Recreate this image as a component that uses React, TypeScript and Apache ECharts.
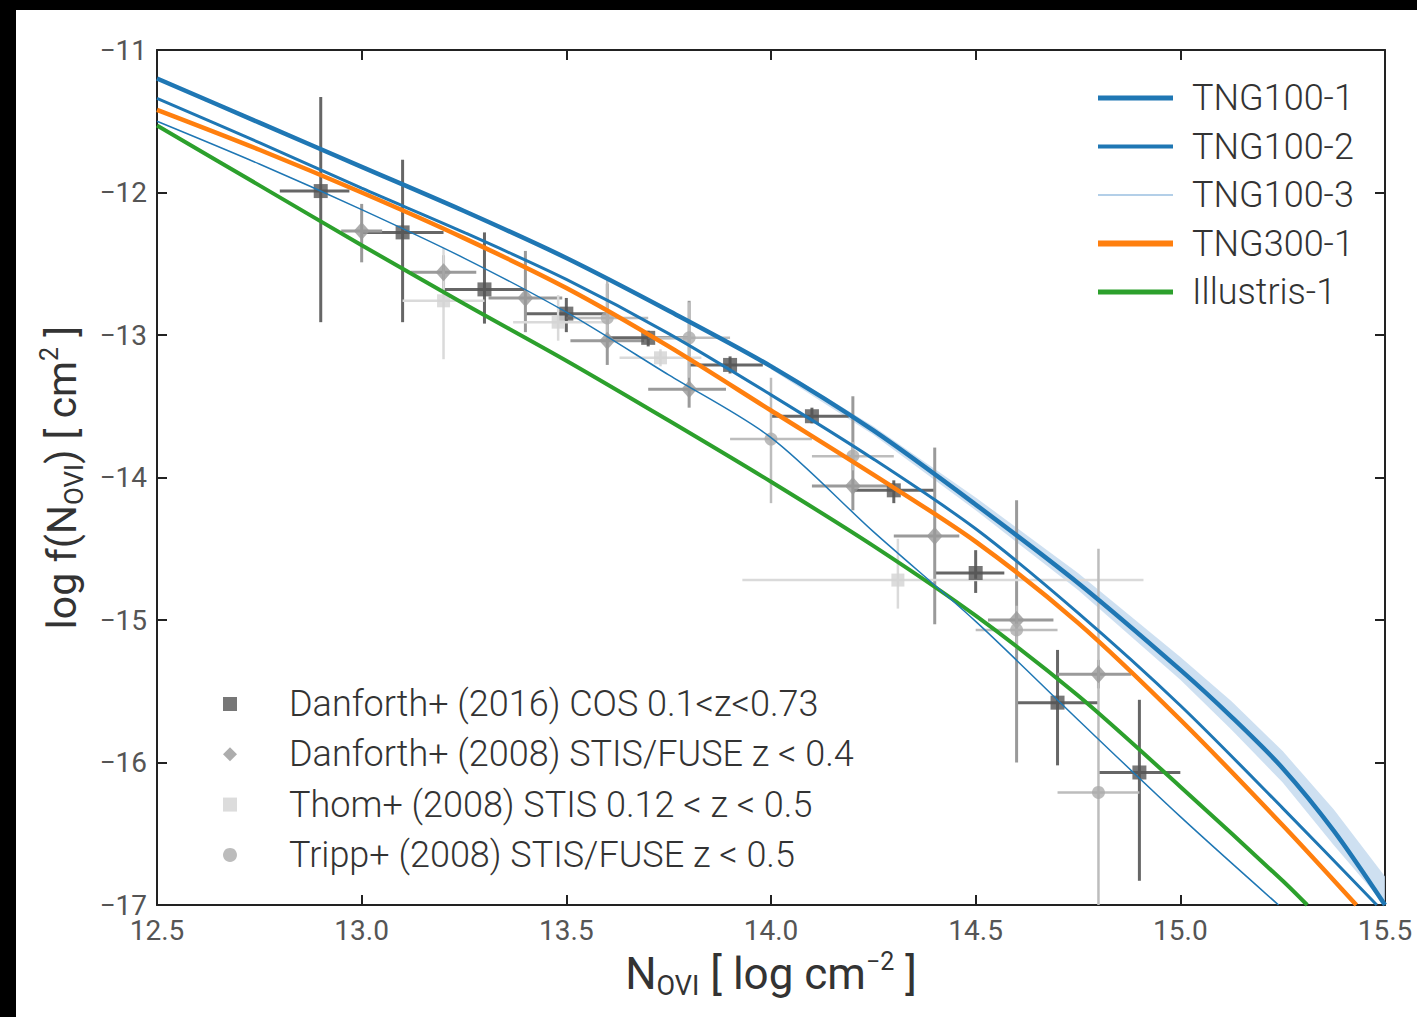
import React, { useEffect, useRef } from 'react';
import * as echarts from 'echarts';

// ---- simulation curves ----
const tng1X = [12.5, 12.75, 13.0, 13.25, 13.5, 13.75, 14.0, 14.25, 14.5, 14.75, 15.0, 15.125, 15.25, 15.375, 15.5];
const tng1Y = [-11.2, -11.51, -11.82, -12.13, -12.46, -12.83, -13.22, -13.67, -14.19, -14.74, -15.35, -15.68, -16.04, -16.48, -17.0];
const tng2X = [12.5, 12.75, 13.0, 13.25, 13.5, 13.75, 14.0, 14.25, 14.5, 14.75, 15.0, 15.25, 15.48];
const tng2Y = [-11.34, -11.65, -11.97, -12.28, -12.61, -12.99, -13.42, -13.87, -14.36, -14.95, -15.6, -16.32, -17.0];
const tng3X = [12.5, 12.75, 13.0, 13.25, 13.5, 13.75, 14.0, 14.25, 14.5, 14.75, 15.0, 15.24];
const tng3Y = [-11.5, -11.8, -12.12, -12.46, -12.84, -13.28, -13.72, -14.38, -15.01, -15.7, -16.38, -17.0];
const tng300X = [12.5, 12.75, 13.0, 13.25, 13.5, 13.75, 14.0, 14.25, 14.5, 14.75, 15.0, 15.25, 15.43];
const tng300Y = [-11.42, -11.7, -12.0, -12.32, -12.67, -13.08, -13.53, -13.98, -14.45, -15.02, -15.7, -16.44, -17.0];
const illX = [12.5, 12.75, 13.0, 13.25, 13.5, 13.75, 14.0, 14.25, 14.5, 14.75, 15.0, 15.25, 15.31];
const illY = [-11.53, -11.95, -12.37, -12.78, -13.18, -13.6, -14.03, -14.48, -14.97, -15.53, -16.17, -16.83, -17.0];

// TNG100-1 shaded range
const bandX = [14.0, 14.25, 14.5, 14.75, 15.0, 15.125, 15.25, 15.375, 15.5];
const bandHi = [-13.2, -13.64, -14.14, -14.67, -15.26, -15.57, -15.92, -16.33, -16.8];
const bandLo = [-13.24, -13.7, -14.23, -14.79, -15.42, -15.77, -16.14, -16.58, -17.0];

// ---- observations ----
const d16X = [12.9, 13.1, 13.3, 13.5, 13.7, 13.9, 14.1, 14.3, 14.5, 14.7, 14.9];
const d16Y = [-11.99, -12.28, -12.68, -12.85, -13.02, -13.21, -13.57, -14.09, -14.67, -15.58, -16.07];
const d16XLo = [12.8, 13.0, 13.2, 13.4, 13.6, 13.8, 14.0, 14.2, 14.4, 14.6, 14.8];
const d16XHi = [12.97, 13.2, 13.4, 13.6, 13.8, 13.98, 14.19, 14.4, 14.57, 14.8, 15.0];
const d16YLo = [-12.91, -12.91, -12.92, -12.98, -13.08, -13.27, -13.62, -14.18, -14.81, -16.02, -16.83];
const d16YHi = [-11.33, -11.77, -12.28, -12.74, -12.97, -13.15, -13.51, -14.02, -14.51, -15.21, -15.56];

const d08X = [13.0, 13.2, 13.4, 13.6, 13.8, 14.2, 14.4, 14.6, 14.8];
const d08Y = [-12.27, -12.56, -12.74, -13.04, -13.38, -14.06, -14.41, -15.0, -15.38];
const d08XLo = [12.95, 13.12, 13.31, 13.51, 13.7, 14.1, 14.3, 14.53, 14.7];
const d08XHi = [13.05, 13.28, 13.49, 13.69, 13.89, 14.3, 14.46, 14.69, 14.88];
const d08YLo = [-12.49, -12.68, -12.98, -13.21, -13.51, -14.23, -15.03, -16.0, -15.48];
const d08YHi = [-12.08, -12.44, -12.41, -12.64, -12.76, -13.43, -13.79, -14.16, -15.28];

const thomX = [13.2, 13.48, 13.73, 14.31];
const thomY = [-12.76, -12.91, -13.16, -14.72];
const thomXLo = [13.1, 13.37, 13.63, 13.93];
const thomXHi = [13.3, 13.6, 13.83, 14.91];
const thomYLo = [-13.17, -13.04, -13.22, -14.92];
const thomYHi = [-12.39, -12.72, -13.1, -14.43];

const trippX = [13.6, 13.8, 14.0, 14.2, 14.6, 14.8];
const trippY = [-12.88, -13.02, -13.73, -13.85, -15.07, -16.21];
const trippXLo = [13.5, 13.7, 13.9, 14.1, 14.5, 14.7];
const trippXHi = [13.7, 13.9, 14.1, 14.3, 14.7, 14.9];
const trippYLo = [-13.0, -13.3, -14.18, -13.95, -15.2, -17.0];
const trippYHi = [-12.6, -12.77, -13.3, -13.75, -14.9, -14.5];

const lineNames = ['TNG100-1', 'TNG100-2', 'TNG100-3', 'TNG300-1', 'Illustris-1'];
const obsNames = [
  'Danforth+ (2016) COS 0.1<z<0.73',
  'Danforth+ (2008) STIS/FUSE z < 0.4',
  'Thom+ (2008) STIS 0.12 < z < 0.5',
  'Tripp+ (2008) STIS/FUSE z < 0.5',
];

const FONT = 'Roboto, "Noto Sans", sans-serif';

const zip = (xs: number[], ys: number[]) => xs.map((x, i) => [x, ys[i]]);

function errSeries(id: string, xs: number[], ys: number[], xlo: number[], xhi: number[], ylo: number[], yhi: number[], color: string, w: number) {
  return {
    type: 'custom',
    id,
    silent: true,
    z: 2,
    data: xs.map((x, i) => [x, ys[i], xlo[i], xhi[i], ylo[i], yhi[i]]),
    encode: { x: [0, 2, 3], y: [1, 4, 5] },
    renderItem: (params: any, api: any) => {
      const c = api.coord([api.value(0), api.value(1)]);
      const l = api.coord([api.value(2), api.value(1)]);
      const r = api.coord([api.value(3), api.value(1)]);
      const lo = api.coord([api.value(0), api.value(4)]);
      const hi = api.coord([api.value(0), api.value(5)]);
      return {
        type: 'group',
        children: [
          { type: 'line', shape: { x1: l[0], y1: c[1], x2: r[0], y2: c[1] }, style: { stroke: color, lineWidth: w } },
          { type: 'line', shape: { x1: c[0], y1: hi[1], x2: c[0], y2: lo[1] }, style: { stroke: color, lineWidth: w } },
        ],
      };
    },
  };
}

function lineSeries(name: string, xs: number[], ys: number[], color: string, width: number) {
  return {
    type: 'line', name, data: zip(xs, ys), smooth: 0.3, symbol: 'none',
    lineStyle: { color, width }, itemStyle: { color }, z: 4, silent: true,
  };
}

export default function App() {
  const ref = useRef<HTMLDivElement>(null);
  useEffect(() => {
    if (!ref.current) return;
    const chart = echarts.init(ref.current, undefined, { renderer: 'svg' });
    const axisLine = { show: true, lineStyle: { color: '#222', width: 2 } };
    const axisTick = { show: true, inside: true, length: 10, lineStyle: { color: '#222', width: 2 } };
    const option: any = {
      animation: false,
      backgroundColor: '#fff',
      textStyle: { fontFamily: FONT },
      graphic: [
        { type: 'rect', shape: { x: 0, y: 0, width: 1417, height: 10 }, style: { fill: '#000' }, z: 100 },
        { type: 'rect', shape: { x: 0, y: 0, width: 16, height: 1017 }, style: { fill: '#000' }, z: 100 },
      ],
      grid: { left: 157, right: 32, top: 50, bottom: 112 },
      legend: [
        {
          orient: 'vertical',
          left: 1090,
          top: 75,
          itemWidth: 75,
          itemHeight: 14,
          itemGap: 12.5,
          itemStyle: { opacity: 0 },
          textStyle: { fontSize: 36, color: '#333', fontFamily: FONT, fontWeight: 300, padding: [0, 0, 0, 14] },
          data: [
            { name: 'TNG100-1', lineStyle: { width: 5, color: '#1f77b4' } },
            { name: 'TNG100-2', lineStyle: { width: 4, color: '#1f77b4' } },
            { name: 'TNG100-3', lineStyle: { width: 2, color: '#b3cfe8' } },
            { name: 'TNG300-1', lineStyle: { width: 6, color: '#ff7f0e' } },
            { name: 'Illustris-1', lineStyle: { width: 5, color: '#2ca02c' } },
          ],
          selectedMode: false,
        },
        {
          orient: 'vertical',
          left: 218,
          top: 681,
          itemWidth: 14,
          itemHeight: 14,
          itemGap: 14.3,
          textStyle: { fontSize: 36, color: '#333', fontFamily: FONT, fontWeight: 300, padding: [0, 0, 0, 47] },
          data: obsNames,
          selectedMode: false,
        },
      ],
      xAxis: [
        {
          type: 'value', min: 12.5, max: 15.5, interval: 0.5, position: 'bottom',
          axisLine, axisTick, splitLine: { show: false },
          axisLabel: { fontSize: 28, color: '#555', margin: 11, fontFamily: FONT, formatter: (v: number) => v.toFixed(1) },
          name: '{n|N}{s|OVI}{n| [ log cm}{p|−2}{n| ]}',
          nameLocation: 'middle',
          nameGap: 44,
          nameTextStyle: {
            rich: {
              n: { fontSize: 44, color: '#333', fontFamily: FONT, lineHeight: 50, verticalAlign: 'middle' },
              s: { fontSize: 27, color: '#333', fontFamily: FONT, lineHeight: 36, verticalAlign: 'bottom' },
              p: { fontSize: 25, color: '#333', fontFamily: FONT, lineHeight: 30, verticalAlign: 'top' },
            },
          },
        },
        {
          type: 'value', min: 12.5, max: 15.5, interval: 0.5, position: 'top',
          axisLine, axisTick, splitLine: { show: false }, axisLabel: { show: false },
        },
      ],
      yAxis: [
        {
          type: 'value', min: -17, max: -11, interval: 1, position: 'left',
          axisLine, axisTick, splitLine: { show: false },
          axisLabel: { fontSize: 28, color: '#555', margin: 10, fontFamily: FONT, formatter: (v: number) => (v < 0 ? '−' : '') + Math.abs(v) },
          name: '{n|log f(N}{s|OVI}{n|) [ cm}{p|2}{n| ]}',
          nameLocation: 'middle',
          nameRotate: 90,
          nameGap: 70,
          nameTextStyle: {
            rich: {
              n: { fontSize: 41, color: '#333', fontFamily: FONT, lineHeight: 50, verticalAlign: 'middle' },
              s: { fontSize: 26, color: '#333', fontFamily: FONT, lineHeight: 36, verticalAlign: 'bottom' },
              p: { fontSize: 25, color: '#333', fontFamily: FONT, lineHeight: 30, verticalAlign: 'top' },
            },
          },
        },
        {
          type: 'value', min: -17, max: -11, interval: 1, position: 'right',
          axisLine, axisTick, splitLine: { show: false }, axisLabel: { show: false },
        },
      ],
      series: [
        {
          type: 'custom',
          id: 'band',
          silent: true,
          z: 1,
          data: bandX.map((x, i) => [x, bandLo[i], bandHi[i]]),
          encode: { x: 0, y: [1, 2] },
          renderItem: (params: any, api: any) => {
            if (params.dataIndex !== 0) return null;
            const hi = bandX.map((x, i) => api.coord([x, bandHi[i]]));
            const lo = bandX.map((x, i) => api.coord([x, bandLo[i]])).reverse();
            return { type: 'polygon', shape: { points: hi.concat(lo) }, style: { fill: '#c6dbef', opacity: 0.85 } };
          },
        },
        errSeries('d16err', d16X, d16Y, d16XLo, d16XHi, d16YLo, d16YHi, '#666666', 3),
        errSeries('d08err', d08X, d08Y, d08XLo, d08XHi, d08YLo, d08YHi, '#9a9a9a', 3),
        errSeries('thomerr', thomX, thomY, thomXLo, thomXHi, thomYLo, thomYHi, '#dadada', 2.5),
        errSeries('tripperr', trippX, trippY, trippXLo, trippXHi, trippYLo, trippYHi, '#bdbdbd', 2.5),
        { type: 'scatter', name: obsNames[0], data: zip(d16X, d16Y), symbol: 'rect', symbolSize: 14, itemStyle: { color: '#555555' }, z: 3, silent: true },
        { type: 'scatter', name: obsNames[1], data: zip(d08X, d08Y), symbol: 'diamond', symbolSize: [16, 18], itemStyle: { color: '#999999' }, z: 3, silent: true },
        { type: 'scatter', name: obsNames[2], data: zip(thomX, thomY), symbol: 'rect', symbolSize: 13, itemStyle: { color: '#d3d3d3' }, z: 3, silent: true },
        { type: 'scatter', name: obsNames[3], data: zip(trippX, trippY), symbol: 'circle', symbolSize: 13, itemStyle: { color: '#ababab' }, z: 3, silent: true },
        lineSeries(lineNames[4], illX, illY, '#2ca02c', 4),
        lineSeries(lineNames[2], tng3X, tng3Y, '#1f77b4', 1.5),
        lineSeries(lineNames[3], tng300X, tng300Y, '#ff7f0e', 4.5),
        lineSeries(lineNames[1], tng2X, tng2Y, '#1f77b4', 3),
        lineSeries(lineNames[0], tng1X, tng1Y, '#1f77b4', 4.5),
      ],
    };
    chart.setOption(option);
    return () => chart.dispose();
  }, []);
  return <div ref={ref} style={{ position: 'fixed', left: 0, top: 0, width: 1417, height: 1017, background: '#fff' }} />;
}
